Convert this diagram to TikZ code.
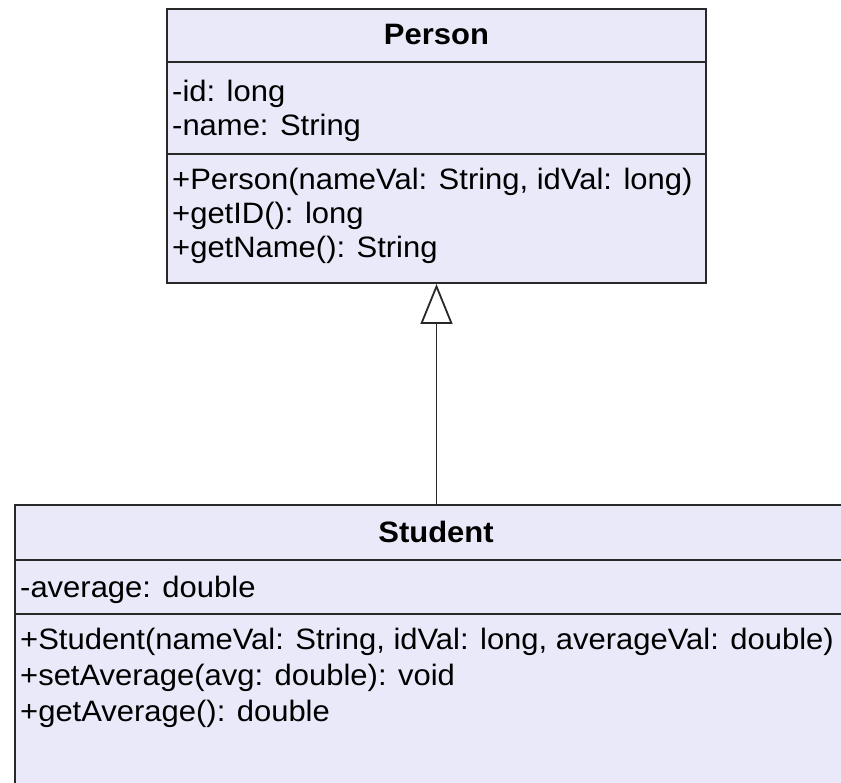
\documentclass[tikz,border=0pt]{standalone}
\usepackage{fontspec}
\setmainfont{Liberation Sans}[FakeStretch=1.05]
\usetikzlibrary{arrows.meta,calc}
\definecolor{boxfill}{RGB}{233,233,249}
\definecolor{boxline}{RGB}{40,40,40}
\tikzset{
  classbox/.style={draw=boxline, fill=boxfill, line width=2pt, rectangle, inner sep=0pt},
  sepline/.style={draw=boxline, line width=2pt},
  txt/.style={inner sep=0pt, anchor=base west, font=\fontsize{29.5}{34}\selectfont, text=black},
  ttl/.style={inner sep=0pt, anchor=base, font=\fontsize{29.5}{34}\selectfont\bfseries, text=black},
  conn/.style={draw=boxline, line width=1.8pt}
}
\begin{document}
\begin{tikzpicture}[x=1pt,y=-1pt]
\useasboundingbox (0,0) rectangle (841,783);
\clip (0,0) rectangle (841,783);
% Person class
\node[classbox, minimum width=539pt, minimum height=274pt] (person) at (436.5,146) {};
\draw[sepline] ($(person.north west)+(0,54)$) -- ($(person.north east)+(0,54)$);
\draw[sepline] ($(person.north west)+(0,146)$) -- ($(person.north east)+(0,146)$);
\node[ttl] (ptitle) at (436.5,45) {Person};
\node[txt] (pa1) at (172,102) {-id: long};
\node[txt] (pa2) at (172,136) {-name: String};
\node[txt] (pm1) at (172,190) {+Person(nameVal: String, idVal: long)};
\node[txt] (pm2) at (172,224) {+getID(): long};
\node[txt] (pm3) at (172,258) {+getName(): String};
% Student class
\node[classbox, minimum width=885pt, minimum height=395pt] (student) at (457.5,702.5) {};
\draw[sepline] ($(student.north west)+(0,56)$) -- ($(student.north east)+(0,56)$);
\draw[sepline] ($(student.north west)+(0,110)$) -- ($(student.north east)+(0,110)$);
\node[ttl] (stitle) at (436,542) {Student};
\node[txt] (sa1) at (20,597) {-average: double};
\node[txt] (sm1) at (20,649) {+Student(nameVal: String, idVal: long, averageVal: double)};
\node[txt] (sm2) at (20,685) {+setAverage(avg: double): void};
\node[txt] (sm3) at (20,721) {+getAverage(): double};
% inheritance
\draw[conn, -{Triangle[open, length=40pt, width=32pt, fill=white]}] (student.north -| person.south) -- (person.south);
\end{tikzpicture}
\end{document}
